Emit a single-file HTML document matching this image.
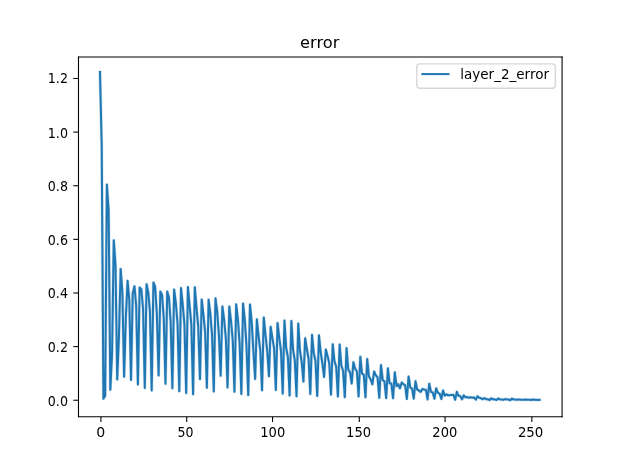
<!DOCTYPE html>
<html><head><meta charset="utf-8"><title>error</title>
<style>html,body{margin:0;padding:0;background:#fff;overflow:hidden}svg{display:block}</style></head><body>
<svg width="624" height="468" viewBox="0 0 640 480" font-family="DejaVu Sans, Liberation Sans, sans-serif">
<rect x="0" y="0" width="640" height="480" fill="#fff"/>
<polyline points="102.55,73.95 104.31,148.72 106.08,408.92 107.85,405.95 109.62,189.33 111.39,215.38 113.15,399.79 114.92,363.08 116.69,246.46 118.46,271.79 120.23,389.13 122.00,344.62 123.76,275.79 125.53,300.00 127.30,386.46 129.07,326.15 130.84,287.90 132.61,307.69 134.37,389.64 136.14,301.03 137.91,293.54 139.68,313.85 141.45,394.36 143.22,294.87 144.98,296.92 146.75,316.92 148.52,397.85 150.29,291.49 152.06,299.79 153.82,320.00 155.59,400.51 157.36,289.64 159.13,294.05 160.90,323.08 162.67,385.03 164.43,298.97 166.20,302.26 167.97,326.67 169.74,393.64 171.51,298.97 173.28,305.13 175.04,330.26 176.81,398.26 178.58,297.03 180.35,310.77 182.12,332.31 183.89,401.23 185.65,295.38 187.42,312.51 189.19,333.13 190.96,403.03 192.73,294.36 194.50,313.85 196.26,333.33 198.03,404.41 199.80,294.56 201.57,315.90 203.34,335.08 205.10,388.92 206.87,307.18 208.64,322.77 210.41,341.03 212.18,397.64 213.95,307.38 215.71,321.95 217.48,343.08 219.25,401.54 221.02,305.95 222.79,319.49 224.56,344.62 226.32,385.28 228.09,314.26 229.86,327.79 231.63,346.67 233.40,397.33 235.17,314.26 236.93,329.13 238.70,348.72 240.47,401.74 242.24,312.10 244.01,327.69 245.77,352.31 247.54,404.00 249.31,311.28 251.08,328.21 252.85,355.90 254.62,405.23 256.38,312.26 258.15,330.26 259.92,361.03 261.69,388.62 263.46,327.54 265.23,345.13 266.99,359.59 268.76,400.31 270.53,325.54 272.30,343.59 274.07,360.00 275.84,385.95 277.60,335.23 279.37,346.67 281.14,357.33 282.91,400.00 284.68,331.28 286.45,346.67 288.21,360.00 289.98,403.69 291.75,328.62 293.52,356.92 295.29,366.67 297.05,405.69 298.82,329.13 300.59,358.56 302.36,369.74 304.13,406.46 305.90,331.90 307.66,360.00 309.43,371.28 311.20,391.38 312.97,346.87 314.74,357.95 316.51,368.21 318.27,404.00 320.04,343.38 321.81,362.19 323.58,370.26 325.35,406.15 327.12,343.90 328.88,361.03 330.65,372.82 332.42,386.67 334.19,358.51 335.96,365.03 337.72,372.62 339.49,404.72 341.26,353.03 343.03,370.26 344.80,376.21 346.57,406.67 348.33,353.28 350.10,374.87 351.87,380.31 353.64,407.38 355.41,356.92 357.18,379.18 358.94,381.74 360.71,393.33 362.48,371.49 364.25,378.15 366.02,380.77 367.79,406.67 369.55,365.85 371.32,383.28 373.09,384.21 374.86,407.49 376.63,368.10 378.40,386.15 380.16,389.13 381.93,394.15 383.70,381.03 385.47,385.03 387.24,386.97 389.00,408.00 390.77,374.46 392.54,389.95 394.31,391.08 396.08,408.31 397.85,377.74 399.61,393.13 401.38,393.44 403.15,408.46 404.92,381.85 406.69,396.05 408.46,394.05 410.22,398.26 411.99,392.31 413.76,394.05 415.53,395.28 417.30,409.23 419.07,386.15 420.83,397.54 422.60,398.51 424.37,408.92 426.14,390.97 427.91,399.49 429.67,400.51 431.44,401.95 433.21,398.97 434.98,399.49 436.75,399.79 438.52,409.64 440.28,393.54 442.05,401.95 443.82,402.46 445.59,408.92 447.36,398.26 449.13,402.97 450.89,403.74 452.66,409.23 454.43,400.51 456.20,405.74 457.97,404.41 459.74,405.54 461.50,405.13 463.27,405.13 465.04,404.92 466.81,409.95 468.58,401.90 470.35,405.95 472.11,406.41 473.88,409.54 475.65,405.44 477.42,407.49 479.19,407.28 480.95,408.00 482.72,407.49 484.49,407.90 486.26,407.59 488.03,409.95 489.80,406.46 491.56,407.90 493.33,408.41 495.10,409.54 496.87,408.15 498.64,409.51 500.41,409.53 502.17,410.26 503.94,408.44 505.71,409.58 507.48,409.60 509.25,410.24 511.02,408.72 512.78,409.66 514.55,409.68 516.32,410.01 518.09,409.31 519.86,409.74 521.62,409.76 523.39,410.49 525.16,408.77 526.93,409.81 528.70,409.83 530.47,410.06 532.23,409.62 534.00,409.89 535.77,409.91 537.54,410.08 539.31,409.74 541.08,409.97 542.84,409.99 544.61,410.21 546.38,409.72 548.15,410.04 549.92,410.06 551.69,410.19 553.45,410.00" fill="none" stroke="#1f77b4" stroke-opacity="0.22" stroke-width="3.3" stroke-linejoin="round" stroke-linecap="square"/>
<polyline points="102.55,73.95 104.31,148.72 106.08,408.92 107.85,405.95 109.62,189.33 111.39,215.38 113.15,399.79 114.92,363.08 116.69,246.46 118.46,271.79 120.23,389.13 122.00,344.62 123.76,275.79 125.53,300.00 127.30,386.46 129.07,326.15 130.84,287.90 132.61,307.69 134.37,389.64 136.14,301.03 137.91,293.54 139.68,313.85 141.45,394.36 143.22,294.87 144.98,296.92 146.75,316.92 148.52,397.85 150.29,291.49 152.06,299.79 153.82,320.00 155.59,400.51 157.36,289.64 159.13,294.05 160.90,323.08 162.67,385.03 164.43,298.97 166.20,302.26 167.97,326.67 169.74,393.64 171.51,298.97 173.28,305.13 175.04,330.26 176.81,398.26 178.58,297.03 180.35,310.77 182.12,332.31 183.89,401.23 185.65,295.38 187.42,312.51 189.19,333.13 190.96,403.03 192.73,294.36 194.50,313.85 196.26,333.33 198.03,404.41 199.80,294.56 201.57,315.90 203.34,335.08 205.10,388.92 206.87,307.18 208.64,322.77 210.41,341.03 212.18,397.64 213.95,307.38 215.71,321.95 217.48,343.08 219.25,401.54 221.02,305.95 222.79,319.49 224.56,344.62 226.32,385.28 228.09,314.26 229.86,327.79 231.63,346.67 233.40,397.33 235.17,314.26 236.93,329.13 238.70,348.72 240.47,401.74 242.24,312.10 244.01,327.69 245.77,352.31 247.54,404.00 249.31,311.28 251.08,328.21 252.85,355.90 254.62,405.23 256.38,312.26 258.15,330.26 259.92,361.03 261.69,388.62 263.46,327.54 265.23,345.13 266.99,359.59 268.76,400.31 270.53,325.54 272.30,343.59 274.07,360.00 275.84,385.95 277.60,335.23 279.37,346.67 281.14,357.33 282.91,400.00 284.68,331.28 286.45,346.67 288.21,360.00 289.98,403.69 291.75,328.62 293.52,356.92 295.29,366.67 297.05,405.69 298.82,329.13 300.59,358.56 302.36,369.74 304.13,406.46 305.90,331.90 307.66,360.00 309.43,371.28 311.20,391.38 312.97,346.87 314.74,357.95 316.51,368.21 318.27,404.00 320.04,343.38 321.81,362.19 323.58,370.26 325.35,406.15 327.12,343.90 328.88,361.03 330.65,372.82 332.42,386.67 334.19,358.51 335.96,365.03 337.72,372.62 339.49,404.72 341.26,353.03 343.03,370.26 344.80,376.21 346.57,406.67 348.33,353.28 350.10,374.87 351.87,380.31 353.64,407.38 355.41,356.92 357.18,379.18 358.94,381.74 360.71,393.33 362.48,371.49 364.25,378.15 366.02,380.77 367.79,406.67 369.55,365.85 371.32,383.28 373.09,384.21 374.86,407.49 376.63,368.10 378.40,386.15 380.16,389.13 381.93,394.15 383.70,381.03 385.47,385.03 387.24,386.97 389.00,408.00 390.77,374.46 392.54,389.95 394.31,391.08 396.08,408.31 397.85,377.74 399.61,393.13 401.38,393.44 403.15,408.46 404.92,381.85 406.69,396.05 408.46,394.05 410.22,398.26 411.99,392.31 413.76,394.05 415.53,395.28 417.30,409.23 419.07,386.15 420.83,397.54 422.60,398.51 424.37,408.92 426.14,390.97 427.91,399.49 429.67,400.51 431.44,401.95 433.21,398.97 434.98,399.49 436.75,399.79 438.52,409.64 440.28,393.54 442.05,401.95 443.82,402.46 445.59,408.92 447.36,398.26 449.13,402.97 450.89,403.74 452.66,409.23 454.43,400.51 456.20,405.74 457.97,404.41 459.74,405.54 461.50,405.13 463.27,405.13 465.04,404.92 466.81,409.95 468.58,401.90 470.35,405.95 472.11,406.41 473.88,409.54 475.65,405.44 477.42,407.49 479.19,407.28 480.95,408.00 482.72,407.49 484.49,407.90 486.26,407.59 488.03,409.95 489.80,406.46 491.56,407.90 493.33,408.41 495.10,409.54 496.87,408.15 498.64,409.51 500.41,409.53 502.17,410.26 503.94,408.44 505.71,409.58 507.48,409.60 509.25,410.24 511.02,408.72 512.78,409.66 514.55,409.68 516.32,410.01 518.09,409.31 519.86,409.74 521.62,409.76 523.39,410.49 525.16,408.77 526.93,409.81 528.70,409.83 530.47,410.06 532.23,409.62 534.00,409.89 535.77,409.91 537.54,410.08 539.31,409.74 541.08,409.97 542.84,409.99 544.61,410.21 546.38,409.72 548.15,410.04 549.92,410.06 551.69,410.19 553.45,410.00" fill="none" stroke="#1f77b4" stroke-width="2.083" stroke-linejoin="round" stroke-linecap="square"/>
<g stroke="#000" stroke-width="1.11" stroke-linecap="square" fill="none">
<line x1="80.5" y1="58.5" x2="80.5" y2="427.5"/><line x1="576.5" y1="58.5" x2="576.5" y2="427.5"/><line x1="80.5" y1="58.5" x2="576.5" y2="58.5"/><line x1="80.5" y1="427.5" x2="576.5" y2="427.5"/>
</g>
<g stroke="#000" stroke-width="1.11" stroke-linecap="butt">
<line x1="103.5" y1="427.5" x2="103.5" y2="432.8"/>
<line x1="191.5" y1="427.5" x2="191.5" y2="432.8"/>
<line x1="279.5" y1="427.5" x2="279.5" y2="432.8"/>
<line x1="368.5" y1="427.5" x2="368.5" y2="432.8"/>
<line x1="456.5" y1="427.5" x2="456.5" y2="432.8"/>
<line x1="545.5" y1="427.5" x2="545.5" y2="432.8"/>
<line x1="80.5" y1="410.5" x2="75.2" y2="410.5"/>
<line x1="80.5" y1="355.5" x2="75.2" y2="355.5"/>
<line x1="80.5" y1="300.5" x2="75.2" y2="300.5"/>
<line x1="80.5" y1="245.5" x2="75.2" y2="245.5"/>
<line x1="80.5" y1="190.5" x2="75.2" y2="190.5"/>
<line x1="80.5" y1="135.5" x2="75.2" y2="135.5"/>
<line x1="80.5" y1="80.5" x2="75.2" y2="80.5"/>
</g>
<g font-size="13.89" fill="#000">
<text x="98.83" y="448.1" textLength="9.21" lengthAdjust="spacingAndGlyphs">0</text>
<text x="182.10" y="448.1" textLength="16.37" lengthAdjust="spacingAndGlyphs">50</text>
<text x="266.93" y="448.1" textLength="25.58" lengthAdjust="spacingAndGlyphs">100</text>
<text x="354.99" y="448.1" textLength="25.58" lengthAdjust="spacingAndGlyphs">150</text>
<text x="443.41" y="448.1" textLength="25.58" lengthAdjust="spacingAndGlyphs">200</text>
<text x="531.16" y="448.1" textLength="26.09" lengthAdjust="spacingAndGlyphs">250</text>
<text x="49.05" y="416.30" textLength="20.65" lengthAdjust="spacingAndGlyphs">0.0</text>
<text x="49.05" y="361.30" textLength="20.65" lengthAdjust="spacingAndGlyphs">0.2</text>
<text x="49.05" y="305.80" textLength="20.65" lengthAdjust="spacingAndGlyphs">0.4</text>
<text x="49.05" y="251.30" textLength="20.65" lengthAdjust="spacingAndGlyphs">0.6</text>
<text x="49.05" y="196.30" textLength="20.65" lengthAdjust="spacingAndGlyphs">0.8</text>
<text x="49.05" y="141.30" textLength="20.65" lengthAdjust="spacingAndGlyphs">1.0</text>
<text x="49.05" y="85.30" textLength="20.65" lengthAdjust="spacingAndGlyphs">1.2</text>
</g>
<text x="328" y="49.4" font-size="16.67" text-anchor="middle" fill="#000">error</text>
<rect x="427.5" y="65.5" width="142" height="25" rx="2.8" ry="2.8" fill="#fff" fill-opacity="0.8" stroke="#ccc" stroke-opacity="0.8" stroke-width="1.39"/>
<line x1="432.1" y1="76" x2="461" y2="76" stroke="#1f77b4" stroke-width="2.083"/>
<text x="472" y="81.0" font-size="13.89" fill="#000">layer_2_error</text>
</svg></body></html>
